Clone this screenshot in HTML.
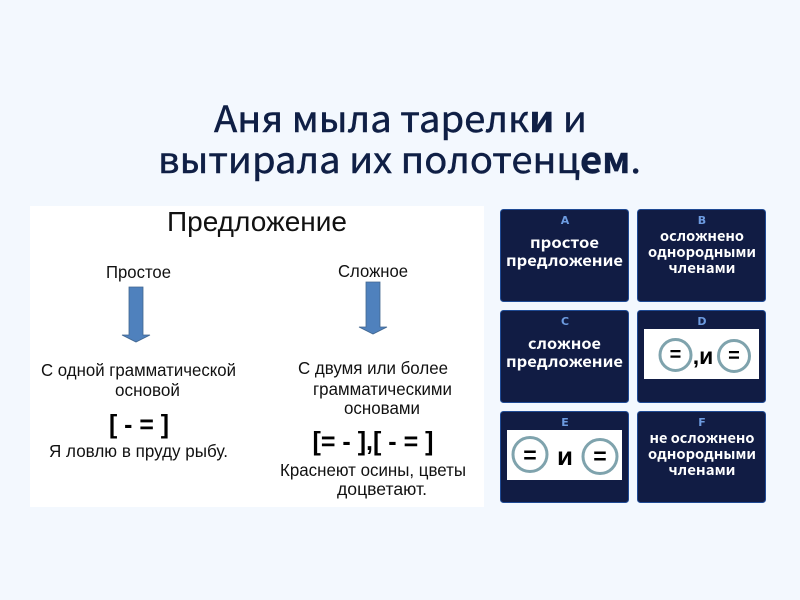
<!DOCTYPE html>
<html><head><meta charset="utf-8"><style>
html,body{margin:0;padding:0;background:#f3f8fe;width:800px;height:600px;overflow:hidden}
svg{display:block;filter:blur(.35px)}
.t{font-family:"Noto Sans CJK SC","DejaVu Sans",sans-serif;fill:#0f1f45;stroke:#0f1f45;stroke-width:.45}
.a{font-family:"Liberation Sans",sans-serif;fill:#111}
.c{font-family:"Noto Sans CJK SC","DejaVu Sans",sans-serif;fill:#fff;font-weight:700;text-anchor:middle}
.l{font-family:"DejaVu Sans",sans-serif;fill:#6d9be0;font-weight:700;font-size:11px;text-anchor:middle}
.m{font-family:"Liberation Sans",sans-serif;fill:#000;font-weight:700;text-anchor:middle}
</style></head><body>
<svg width="800" height="600" viewBox="0 0 800 600" xmlns="http://www.w3.org/2000/svg">
<rect width="800" height="600" fill="#f3f8fe"/>
<text class="t" x="214" y="132" font-size="36" textLength="373" lengthAdjust="spacingAndGlyphs">Аня мыла тарелк<tspan font-weight="700">и</tspan> и</text>
<text class="t" x="158" y="173" font-size="36" textLength="483" lengthAdjust="spacingAndGlyphs">вытирала их полотенц<tspan font-weight="700">ем</tspan>.</text>

<rect x="30" y="206" width="454" height="301" fill="#fff"/>
<text class="a" x="167" y="231" font-size="28" textLength="180" lengthAdjust="spacingAndGlyphs">Предложение</text>
<text class="a" x="106" y="278" font-size="17.5" textLength="65" lengthAdjust="spacingAndGlyphs">Простое</text>
<text class="a" x="338" y="277" font-size="17.5" textLength="70" lengthAdjust="spacingAndGlyphs">Сложное</text>
<path d="M129 287H143V335H150L136 342L122 335H129Z" fill="#4f81bd" stroke="#41668f" stroke-width=".8"/>
<path d="M366 282H380V327H387L373 334L359 327H366Z" fill="#4f81bd" stroke="#41668f" stroke-width=".8"/>
<text class="a" x="41" y="376" font-size="17.5" textLength="195" lengthAdjust="spacingAndGlyphs">С одной грамматической</text>
<text class="a" x="115" y="396" font-size="17.5" textLength="65" lengthAdjust="spacingAndGlyphs">основой</text>
<text class="m" x="139" y="433" font-size="26" textLength="60" lengthAdjust="spacingAndGlyphs">[ - = ]</text>
<text class="a" x="49" y="457" font-size="17.5" textLength="179" lengthAdjust="spacingAndGlyphs">Я ловлю в пруду рыбу.</text>
<text class="a" x="298" y="374" font-size="17.5" textLength="150" lengthAdjust="spacingAndGlyphs">С двумя или более</text>
<text class="a" x="313" y="395" font-size="17.5" textLength="139" lengthAdjust="spacingAndGlyphs">грамматическими</text>
<text class="a" x="344" y="414" font-size="17.5" textLength="76" lengthAdjust="spacingAndGlyphs">основами</text>
<text class="m" x="373" y="450" font-size="26" textLength="121" lengthAdjust="spacingAndGlyphs">[= - ],[ - = ]</text>
<text class="a" x="280" y="476" font-size="17.5" textLength="186" lengthAdjust="spacingAndGlyphs">Краснеют осины, цветы</text>
<text class="a" x="337" y="495" font-size="17.5" textLength="90" lengthAdjust="spacingAndGlyphs">доцветают.</text>

<g fill="#111c44" stroke="#1f4a94" stroke-width="1">
<rect x="500.5" y="209.5" width="128" height="92" rx="3"/>
<rect x="637.5" y="209.5" width="128" height="92" rx="3"/>
<rect x="500.5" y="310.5" width="128" height="92" rx="3"/>
<rect x="637.5" y="310.5" width="128" height="92" rx="3"/>
<rect x="500.5" y="411.5" width="128" height="91" rx="3"/>
<rect x="637.5" y="411.5" width="128" height="91" rx="3"/>
</g>
<text class="l" x="565" y="224">A</text><text class="l" x="702" y="224">B</text>
<text class="l" x="565" y="325">C</text><text class="l" x="702" y="325">D</text>
<text class="l" x="565" y="426">E</text><text class="l" x="702" y="426">F</text>

<text class="c" x="564.5" y="248" font-size="15" textLength="69" lengthAdjust="spacingAndGlyphs">простое</text>
<text class="c" x="564.5" y="266" font-size="15" textLength="117" lengthAdjust="spacingAndGlyphs">предложение</text>
<text class="c" x="702" y="241" font-size="14" textLength="84" lengthAdjust="spacingAndGlyphs">осложнено</text>
<text class="c" x="702" y="257" font-size="14" textLength="108" lengthAdjust="spacingAndGlyphs">однородными</text>
<text class="c" x="702" y="273" font-size="14" textLength="67" lengthAdjust="spacingAndGlyphs">членами</text>
<text class="c" x="564.5" y="349" font-size="15" textLength="73" lengthAdjust="spacingAndGlyphs">сложное</text>
<text class="c" x="564.5" y="367" font-size="15" textLength="117" lengthAdjust="spacingAndGlyphs">предложение</text>
<text class="c" x="702" y="443" font-size="14" textLength="105" lengthAdjust="spacingAndGlyphs">не осложнено</text>
<text class="c" x="702" y="459" font-size="14" textLength="108" lengthAdjust="spacingAndGlyphs">однородными</text>
<text class="c" x="702" y="475" font-size="14" textLength="67" lengthAdjust="spacingAndGlyphs">членами</text>

<rect x="644" y="329" width="115" height="50" fill="#fff"/>
<circle cx="675.5" cy="355" r="15.5" fill="#fff" stroke="#7fa3ad" stroke-width="3"/>
<circle cx="734" cy="356" r="15.5" fill="#fff" stroke="#7fa3ad" stroke-width="3"/>
<text class="m" x="675.5" y="361" font-size="20">=</text>
<text class="m" x="734" y="362" font-size="20">=</text>
<text class="m" x="703" y="364" font-size="23">,и</text>

<rect x="507" y="430" width="115" height="50" fill="#fff"/>
<circle cx="530" cy="454.5" r="17" fill="#fff" stroke="#7fa3ad" stroke-width="3"/>
<circle cx="600" cy="456.5" r="17" fill="#fff" stroke="#7fa3ad" stroke-width="3"/>
<text class="m" x="530" y="463" font-size="23">=</text>
<text class="m" x="600" y="464" font-size="23">=</text>
<text class="m" x="565" y="465" font-size="26">и</text>
</svg>
</body></html>
